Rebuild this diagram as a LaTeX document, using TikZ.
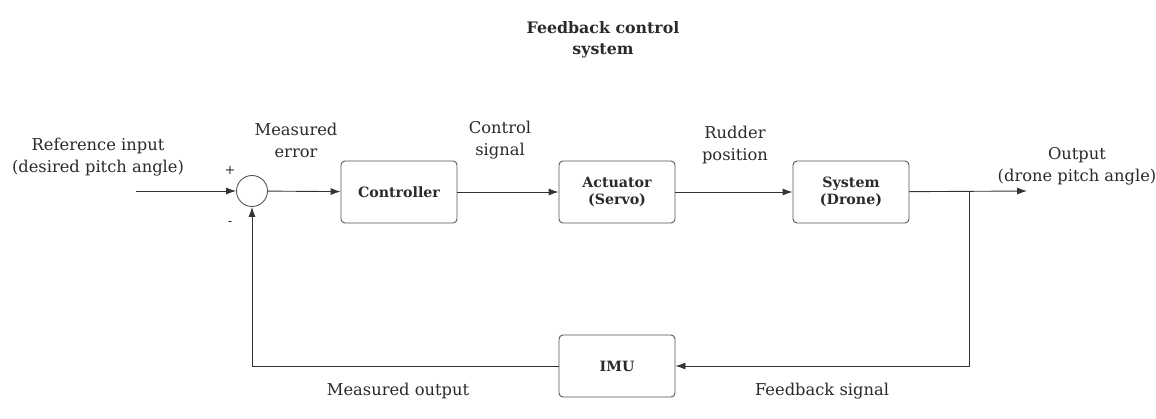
\documentclass[tikz,border=0pt]{standalone}
\usepackage{fontspec}
\setmainfont{DejaVu Serif}
\usepackage{xcolor}
\usetikzlibrary{arrows.meta,positioning,calc}

\definecolor{linegray}{HTML}{333333}
\definecolor{boxgray}{HTML}{555555}
\definecolor{textgray}{HTML}{2A2A2A}

\begin{document}
\begin{tikzpicture}[x=1pt,y=-1pt,
	block/.style={draw=boxgray,line width=0.9pt,rounded corners=4pt,minimum width=116pt,minimum height=62pt,align=center,font=\fontsize{14.2}{17}\selectfont\bfseries,text=textgray},
	sumnode/.style={draw=boxgray,line width=0.9pt,circle,minimum size=31pt,inner sep=0pt},
	lbl/.style={align=center,font=\fontsize{16.3}{22}\selectfont,text=textgray},
	arr/.style={-{Latex[length=10pt,width=7pt]},line width=0.9pt,draw=linegray}]
	\useasboundingbox (0,0) rectangle (1156,419);
	% title
	\node[align=center,font=\fontsize{15.8}{21}\selectfont\bfseries,text=textgray] (title) at (603,40) {Feedback control\\system};
	% blocks
	\node[sumnode] (sum) at (252,191) {};
	\node[block] (ctrl) at (399,192) {Controller};
	\node[block] (act) at (617,192) {Actuator\\(Servo)};
	\node[block] (sys) at (851,192) {System\\(Drone)};
	\node[block] (imu) at (617,366) {IMU};
	\coordinate (in) at (136,191);
	\coordinate (split) at (969,191);
	\coordinate (out) at (1027,191);
	% signals
	\draw[arr] (in) -- (sum.west);
	\draw[arr] (sum) -- (ctrl);
	\draw[arr] (ctrl) -- (act);
	\draw[arr] (act) -- (sys);
	\draw[arr] (sys) -- (out);
	\draw[arr] (split) |- (imu);
	\draw[arr] (imu) -| (sum);
	% labels
	\node[lbl] (reflbl) at (98,157) {Reference input\\(desired pitch angle)};
	\node[lbl] (errlbl) at (296,140) {Measured\\error};
	\node[lbl] (ctllbl) at (500,140) {Control\\signal};
	\node[lbl] (rudlbl) at (735,145) {Rudder\\position};
	\node[lbl] (outlbl) at (1077,166) {Output\\(drone pitch angle)};
	\node[lbl] (moutlbl) at (398,391) {Measured output};
	\node[lbl] (fblbl) at (822,391) {Feedback signal};
	\node[text=textgray,font=\fontsize{13}{14}\selectfont] (plus) at (230,170) {+};
	\node[text=textgray,font=\fontsize{13}{14}\selectfont] (minus) at (230,224) {-};
\end{tikzpicture}
\end{document}
